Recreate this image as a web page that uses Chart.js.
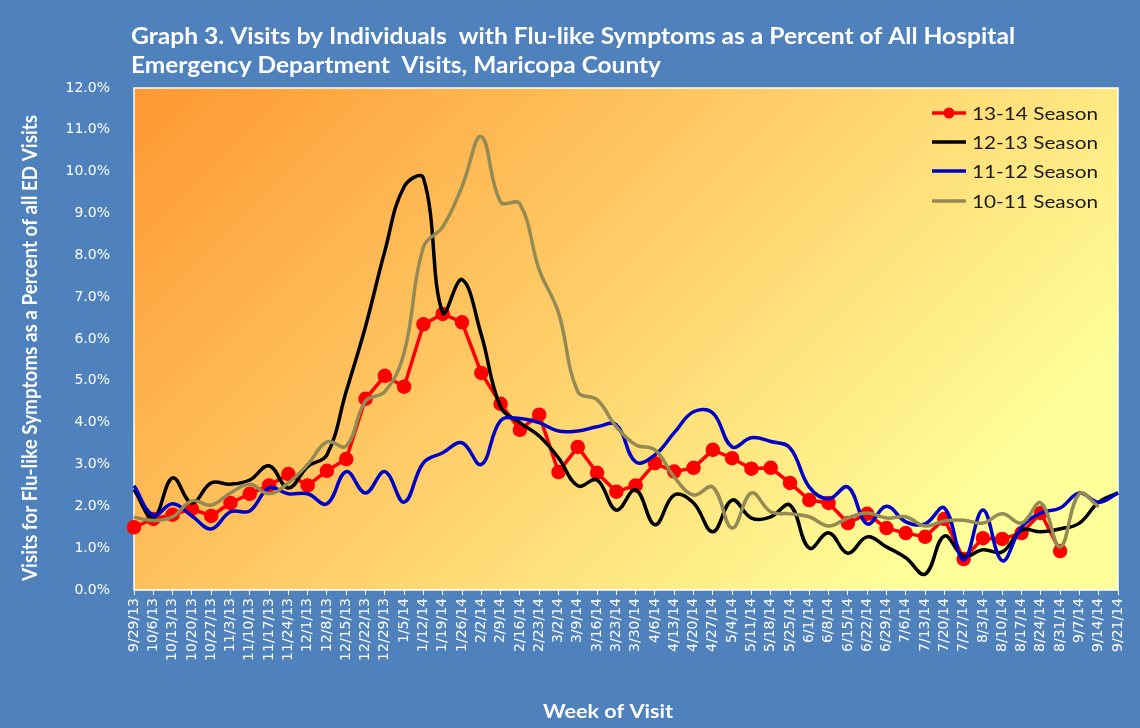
<!DOCTYPE html>
<html>
<head>
<meta charset="utf-8">
<script src="https://cdn.jsdelivr.net/npm/chart.js@4.4.1/dist/chart.umd.min.js"></script>
<style>
  html, body { margin: 0; padding: 0; background: #4f81bd; }
  #wrap { width: 1140px; height: 728px; position: relative; }
</style>
</head>
<body>
<div id="wrap"><canvas id="flu"></canvas></div>
<script>
// week labels
const weeks = ["9/29/13","10/6/13","10/13/13","10/20/13","10/27/13","11/3/13","11/10/13","11/17/13","11/24/13","12/1/13","12/8/13","12/15/13","12/22/13","12/29/13",
  "1/5/14","1/12/14","1/19/14","1/26/14","2/2/14","2/9/14","2/16/14","2/23/14","3/2/14","3/9/14","3/16/14","3/23/14","3/30/14",
  "4/6/14","4/13/14","4/20/14","4/27/14","5/4/14","5/11/14","5/18/14","5/25/14","6/1/14","6/8/14","6/15/14","6/22/14","6/29/14",
  "7/6/14","7/13/14","7/20/14","7/27/14","8/3/14","8/10/14","8/17/14","8/24/14","8/31/14","9/7/14","9/14/14","9/21/14"];

// percent of ED visits, per season
const season1314 = [1.5,1.7,1.8,1.94,1.77,2.08,2.3,2.5,2.77,2.5,2.85,3.13,4.57,5.12,4.86,6.35,6.6,6.4,5.19,4.45,3.83,4.19,2.82,3.42,2.8,2.35,2.5,
  3.03,2.83,2.92,3.35,3.15,2.9,2.92,2.56,2.15,2.08,1.6,1.82,1.48,1.36,1.27,1.7,0.74,1.24,1.22,1.36,1.84,0.93,null,null,null];
const season1213 = [2.4,1.72,2.68,2.08,2.56,2.53,2.63,2.97,2.44,2.95,3.23,4.75,6.3,8.1,9.64,9.85,6.63,7.42,6.1,4.38,4.0,3.68,3.16,2.49,2.63,1.91,2.4,
  1.56,2.27,2.08,1.39,2.15,1.72,1.75,2.03,1.0,1.37,0.88,1.27,1.03,0.77,0.38,1.29,0.81,0.96,0.91,1.43,1.39,1.46,1.6,2.1,2.32];
const season1112 = [2.49,1.79,2.06,1.77,1.46,1.87,1.89,2.44,2.3,2.3,2.06,2.83,2.32,2.83,2.1,3.04,3.28,3.52,3.0,4.05,4.1,4.0,3.8,3.8,3.9,3.95,3.06,
  3.23,3.76,4.26,4.23,3.42,3.64,3.55,3.4,2.46,2.18,2.46,1.58,2.0,1.63,1.58,1.96,0.72,1.91,0.7,1.5,1.84,1.96,2.32,2.1,2.32];
const season1011 = [1.74,1.66,1.75,2.13,2.03,2.32,2.53,2.3,2.56,3.0,3.54,3.44,4.52,4.74,5.67,8.2,8.68,9.64,10.84,9.28,9.23,7.66,6.63,4.74,4.55,3.9,3.47,
  3.35,2.7,2.27,2.46,1.48,2.32,1.87,1.82,1.75,1.53,1.72,1.84,1.72,1.75,1.53,1.65,1.67,1.6,1.82,1.6,2.08,1.03,2.3,1.99,null];

const seasonNames = ["13-14 Season", "12-13 Season", "11-12 Season", "10-11 Season"];
const seasonColors = ["#ff0000", "#000000", "#0000c8", "#948a54"];

// draw text squeezed/stretched to a given width
function fitText(ctx, text, x, y, w) {
  const m = ctx.measureText(text).width;
  ctx.save();
  ctx.translate(x, y);
  ctx.scale(w / m, 1);
  ctx.fillText(text, 0, 0);
  ctx.restore();
}

const backdrop = {
  id: "backdrop",
  beforeDraw(chart) {
    const { ctx, chartArea: a } = chart;
    ctx.save();
    ctx.fillStyle = "#4f81bd";
    ctx.fillRect(0, 0, chart.width, chart.height);
    const g = ctx.createLinearGradient(a.left, a.top, a.left + 630, a.top + 630);
    g.addColorStop(0, "#fe9833");
    g.addColorStop(0.5, "#ffcb66");
    g.addColorStop(1, "#ffff99");
    ctx.fillStyle = g;
    ctx.fillRect(a.left, a.top, a.right - a.left, a.bottom - a.top);
    ctx.strokeStyle = "#ffffff";
    ctx.lineWidth = 1.5;
    ctx.strokeRect(a.left, a.top, a.right - a.left, a.bottom - a.top);
    ctx.restore();
  }
};

const labelsPlugin = {
  id: "labelsPlugin",
  afterDraw(chart) {
    const ctx = chart.ctx;
    ctx.save();
    ctx.fillStyle = "#ffffff";
    ctx.textBaseline = "middle";
    ctx.textAlign = "left";
    ctx.font = "bold 22px Lato";
    fitText(ctx, "Graph 3. Visits by Individuals  with Flu-like Symptoms as a Percent of All Hospital", 131, 37, 884);
    fitText(ctx, "Emergency Department  Visits, Maricopa County", 131, 66, 530);

    // axis titles
    ctx.font = "bold 20px Lato";
    ctx.save();
    ctx.translate(31, 348);
    ctx.rotate(-Math.PI / 2);
    fitText(ctx, "Visits for Flu-like Symptoms as a Percent of all ED Visits", -233, 0, 466);
    ctx.restore();
    ctx.font = "bold 19px Lato";
    fitText(ctx, "Week of Visit", 543, 712, 130);

    // legend
    ctx.font = "18px Lato";
    const rows = [113, 142, 171, 201];
    seasonNames.forEach((name, i) => {
      const y = rows[i];
      ctx.strokeStyle = seasonColors[i];
      ctx.lineWidth = 3.5;
      ctx.beginPath();
      ctx.moveTo(932, y);
      ctx.lineTo(966, y);
      ctx.stroke();
      if (i === 0) {
        ctx.fillStyle = seasonColors[0];
        ctx.beginPath();
        ctx.arc(949, y, 5.5, 0, Math.PI * 2);
        ctx.fill();
      }
      ctx.fillStyle = "#1a1a1a";
      fitText(ctx, name, 972, y + 1, 126);
    });
    ctx.restore();
  }
};

new Chart(document.getElementById("flu"), {
  type: "line",
  data: {
    labels: weeks,
    datasets: [
      { label: seasonNames[0], data: season1314, borderColor: seasonColors[0], backgroundColor: seasonColors[0],
        borderWidth: 3.5, pointRadius: 5.5, pointHoverRadius: 5.5, tension: 0, order: 4 },
      { label: seasonNames[1], data: season1213, borderColor: seasonColors[1],
        borderWidth: 3.5, pointRadius: 0, tension: 0.4, order: 3 },
      { label: seasonNames[2], data: season1112, borderColor: seasonColors[2],
        borderWidth: 3.5, pointRadius: 0, tension: 0.4, order: 2 },
      { label: seasonNames[3], data: season1011, borderColor: seasonColors[3],
        borderWidth: 3.5, pointRadius: 0, tension: 0.4, order: 1 }
    ]
  },
  options: {
    responsive: true,
    maintainAspectRatio: false,
    animation: false,
    layout: { padding: { left: 0, top: 88, right: 22, bottom: 0 } },
    plugins: {
      legend: { display: false },
      title: { display: false },
      tooltip: { enabled: false }
    },
    scales: {
      x: {
        offset: false,
        grid: { display: true, drawOnChartArea: false, drawTicks: true, tickLength: 5, color: "#ffffff", lineWidth: 1 },
        border: { display: false },
        ticks: {
          autoSkip: false, maxRotation: 90, minRotation: 90, padding: 3,
          color: "#ffffff", font: { family: "DejaVu Sans", size: 14 }
        },
        afterFit(scale) { scale.height = 138; }
      },
      y: {
        min: 0, max: 12,
        grid: { display: false },
        border: { display: false },
        ticks: {
          stepSize: 1, padding: 16, color: "#ffffff",
          font: { family: "DejaVu Sans", size: 14 },
          callback: (v) => v.toFixed(1) + "%"
        },
        afterFit(scale) { scale.width = 134; }
      }
    }
  },
  plugins: [backdrop, labelsPlugin]
});
</script>
</body>
</html>
